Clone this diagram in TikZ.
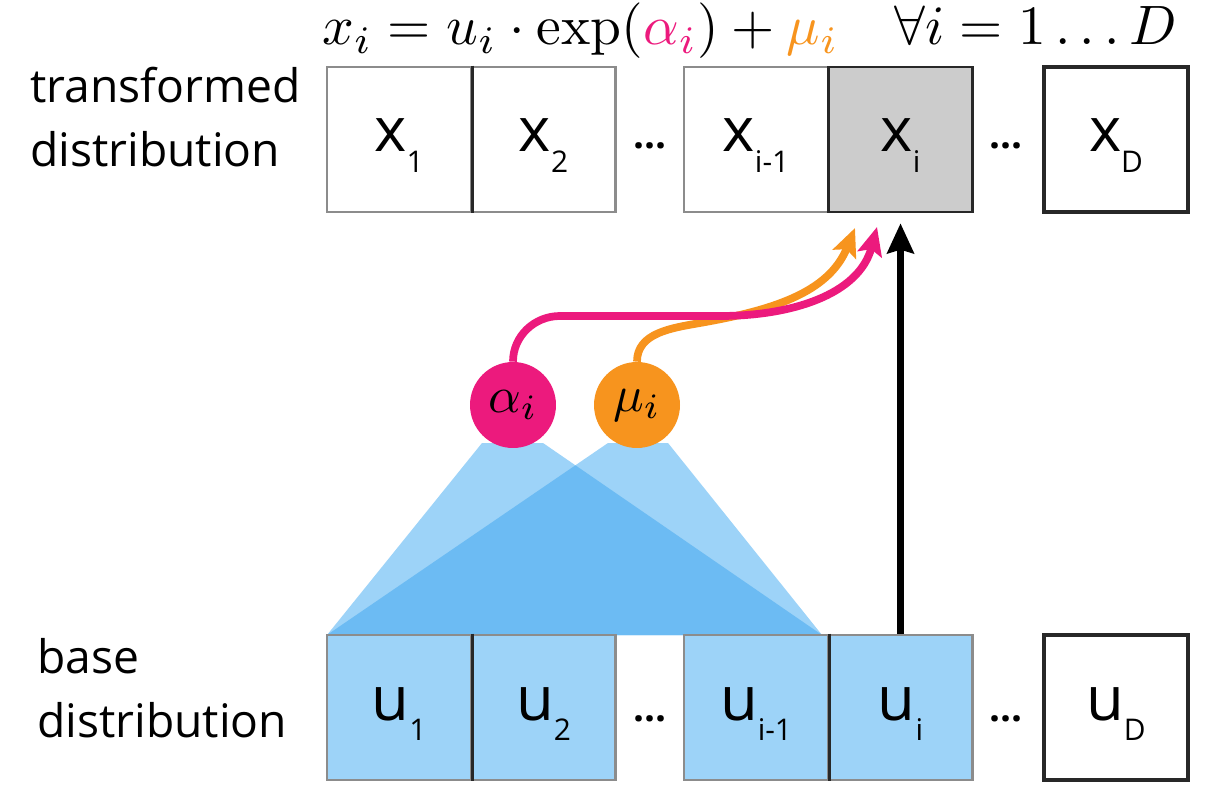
\documentclass[tikz,border=0pt]{standalone}
\usepackage{fontspec}
\newfontfamily\labfont{Open Sans}
\usetikzlibrary{arrows.meta}
\definecolor{pinkc}{RGB}{236,26,125}
\definecolor{orangec}{RGB}{247,148,30}
\definecolor{lblue}{RGB}{157,211,248}
\definecolor{dblue}{RGB}{108,187,243}
\definecolor{graybox}{RGB}{204,204,204}
\definecolor{bordgray}{RGB}{140,140,140}
\definecolor{darkb}{RGB}{40,40,40}
\newcommand{\blab}[2]{{\fontsize{35}{35}\selectfont #1}\raisebox{-11.5pt}{\fontsize{17}{17}\selectfont #2}}
\begin{document}
\begin{tikzpicture}[x=0.02cm,y=0.02cm,
  cell/.style={draw=bordgray, line width=1.5pt, minimum width=2.88cm, minimum height=2.9cm, inner sep=0pt, fill=white},
  cellhi/.style={cell, draw=darkb, fill=graybox},
  cellend/.style={cell, draw=darkb, line width=2pt},
  ucell/.style={cell, fill=lblue},
  divider/.style={draw=darkb, line width=1.5pt},
  side/.style={anchor=base west, inner sep=0pt, font=\labfont\fontsize{26.3}{30}\selectfont},
  dotsn/.style={anchor=base, inner sep=0pt, font=\labfont\bfseries\fontsize{22}{22}\selectfont},
  lab/.style={anchor=base, inner sep=0pt, font=\labfont},
  circ/.style={circle, minimum size=1.72cm, inner sep=0pt},
  flow/.style={line width=4.4pt, -{Stealth[length=16pt,width=14pt,inset=3pt]}},
  mainarrow/.style={line width=4.5pt, black, -{Stealth[length=17pt,width=15pt,inset=2pt]}},
]
\useasboundingbox (0,0) rectangle (1220,-790);

% formula
\node[anchor=base west, inner sep=0pt] (eq) at (322,-45) {\scalebox{3.16}{$x_i = u_i \cdot \exp(\textcolor{pinkc}{\alpha_i}) + \textcolor{orangec}{\mu_i}\hspace{10pt}\forall i = 1 \ldots D$}};

% side labels
\node[side] (t1) at (30,-103) {transformed};
\node[side] (t2) at (30,-167) {distribution};
\node[side] (b1) at (37,-673) {base};
\node[side] (b2) at (37,-737) {distribution};

% top row
\node[cell] (x1) at (399,-139.5) {};
\node[cell] (x2) at (543.5,-139.5) {};
\node[cell] (xim) at (756,-139.5) {};
\node[cellhi] (xi) at (900.5,-139.5) {};
\node[cellend] (xD) at (1116,-139.5) {};
\draw[divider] (x1.north east) -- (x1.south east);
\foreach \n/\a/\b in {x1/x/1, x2/x/2, xim/x/i-1, xi/x/i, xD/x/D}
  \node[lab] (\n-l) at ([yshift=-0.25cm]\n.center) {\blab{\a}{\b}};
\node[dotsn] (td1) at (650,-149) {...};
\node[dotsn] (td2) at (1006,-149) {...};

% cones
\fill[lblue] (482,-443) -- (543,-443) -- (822,-635) -- (327,-635) -- cycle;
\fill[lblue] (608,-443) -- (668,-443) -- (822,-635) -- (327,-635) -- cycle;
\fill[dblue] (575.4,-465.3) -- (822,-635) -- (327,-635) -- cycle;

% bottom row
\node[ucell] (u1) at (399,-707.5) {};
\node[ucell] (u2) at (543.5,-707.5) {};
\node[ucell] (uim) at (756,-707.5) {};
\node[ucell] (ui) at (900.5,-707.5) {};
\node[cellend] (uD) at (1116,-707.5) {};
\draw[divider] (u1.north east) -- (u1.south east);
\draw[divider] (uim.north east) -- (uim.south east);
\foreach \n/\a/\b in {u1/u/1, u2/u/2, uim/u/i-1, ui/u/i, uD/u/D}
  \node[lab] (\n-l) at ([yshift=-0.25cm]\n.center) {\blab{\a}{\b}};
\node[dotsn] (bd1) at (650,-721) {...};
\node[dotsn] (bd2) at (1006,-721) {...};

% circles
\node[circ, fill=pinkc] (al) at (513,-405) {\scalebox{2.9}{$\alpha_i$}};
\node[circ, fill=orangec] (mu) at (637,-405) {\scalebox{2.9}{$\mu_i$}};

% arrows
\coordinate (oe) at (855,-228);
\coordinate (pe) at (877,-227);
\draw[flow, orangec] (mu.north) to[out=90,in=190] (700,-323) to[out=10,in=-112] (oe);
\draw[flow, pinkc] (al.north) to[out=90,in=180] (560,-316) -- (720,-316) to[out=0,in=-105] (pe);
\draw[mainarrow] (ui.north) -- ([yshift=-0.2cm]xi.south);
\end{tikzpicture}
\end{document}
